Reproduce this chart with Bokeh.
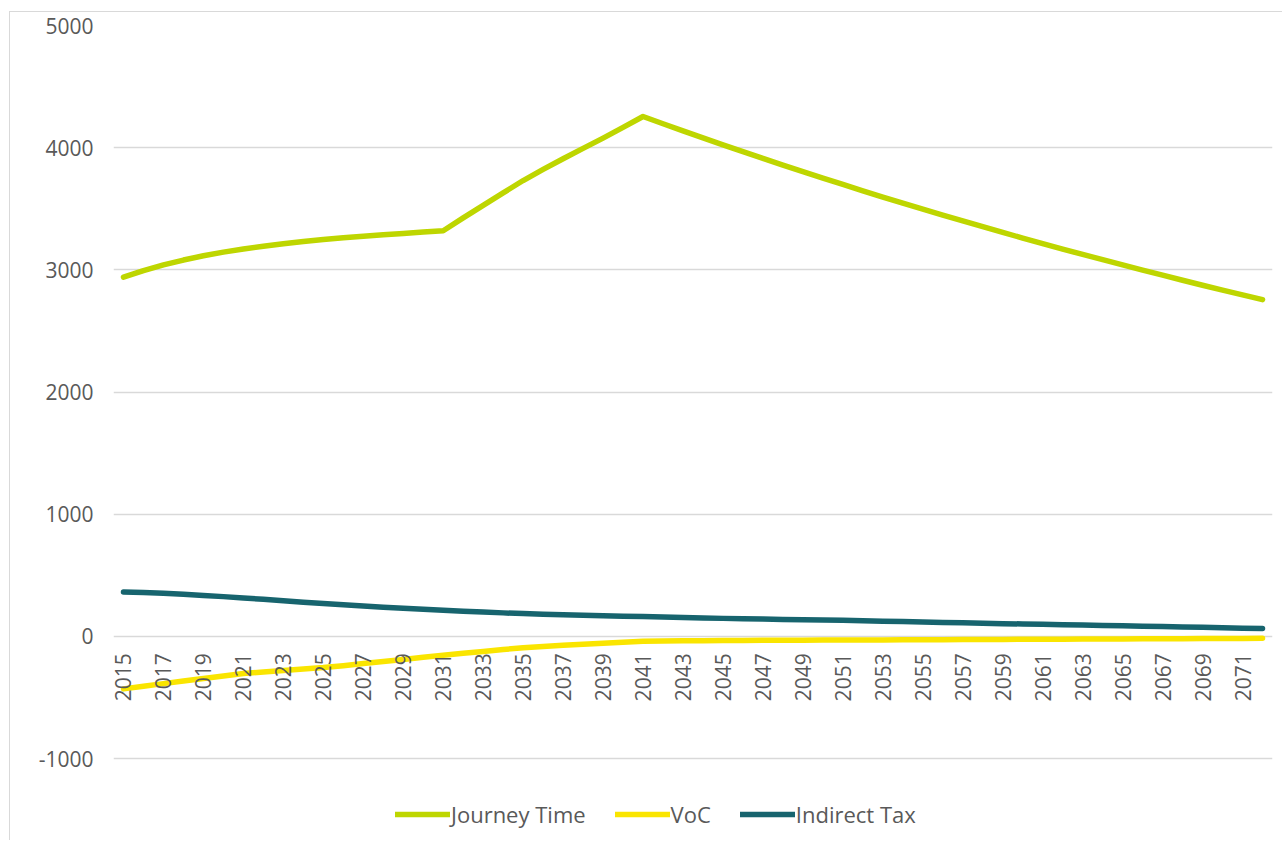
import math
from bokeh.plotting import figure
from bokeh.models import FixedTicker, Legend, LegendItem
from bokeh.embed import file_html
from bokeh.resources import INLINE

years = list(range(2015, 2073))

journey_time = [2940, 2993, 3040, 3080, 3115, 3145, 3170, 3193, 3214, 3232,
                3248, 3262, 3275, 3287, 3298, 3309, 3320,
                3425, 3528, 3630, 3731, 3822, 3909, 3994, 4078, 4166,
                4255, 4196, 4137, 4080, 4023, 3967, 3912, 3857, 3804, 3751,
                3699, 3647, 3596, 3546, 3497, 3448, 3400, 3353, 3306, 3260,
                3215, 3170, 3126, 3083, 3040, 2998, 2956, 2915, 2874, 2834,
                2795, 2756]

voc = [-430, -408, -387, -366, -345, -325, -305, -292, -280, -268,
       -256, -240, -223, -206, -189, -172, -155, -139, -124, -108,
       -93, -83, -73, -64, -56, -48, -40,
       -38, -37, -36, -35, -34, -33, -33, -32, -31, -30, -30, -29, -28,
       -28, -27, -26, -26, -25, -24, -24, -23, -22, -22, -21, -20, -20,
       -19, -18, -18, -17, -16]

indirect_tax = [363, 358, 352, 344, 335, 325, 314, 303, 291, 279,
                268, 258, 248, 238, 229, 221, 213, 206, 199, 192,
                186, 181, 177, 173, 169, 165, 162, 158, 154, 150,
                147, 144, 141, 138, 135, 133, 131, 128, 124, 121,
                118, 114, 111, 108, 104, 101, 98, 95, 92, 89,
                86, 83, 80, 77, 74, 71, 67, 64]

y_ticks = [-1000, 0, 1000, 2000, 3000, 4000, 5000]
x_ticks = list(range(2015, 2072, 2))

series_names = ["Journey Time", "VoC", "Indirect Tax"]
series_colors = ["#BED600", "#FAE500", "#17646E"]

FONT = "Open Sans"
TXT = "#595959"

# frame extends below -1000 to host the legend (gridlines only at ticks)
Y_TOP = 5000
Y_BOTTOM = Y_TOP - 813 * 6000 / 733

p = figure(frame_width=1159, frame_height=813,
           x_range=(2014.5, 2072.5), y_range=(Y_BOTTOM, Y_TOP),
           output_backend="svg", toolbar_location=None,
           min_border_left=103, min_border_top=13, min_border_right=10,
           min_border_bottom=2)
p.styles = {"margin-left": "9px", "margin-top": "11px",
            "border-left": "1px solid #d9d9d9", "border-top": "1px solid #d9d9d9"}
p.outline_line_color = None

renderers = []
for vals, col in zip([journey_time, voc, indirect_tax], series_colors):
    r = p.line(years, vals, line_width=5.5, line_color=col,
               line_cap="round", line_join="round")
    renderers.append(r)

# x axis at zero
p.xaxis.fixed_location = 0
p.xaxis.ticker = FixedTicker(ticks=x_ticks)
p.xaxis.major_label_orientation = math.pi / 2
p.xaxis.axis_line_color = None
p.xaxis.major_tick_line_color = None
p.xaxis.minor_tick_line_color = None
p.xaxis.major_tick_out = 0
p.xaxis.major_label_standoff = 17
p.xaxis.major_label_text_font = FONT
p.xaxis.major_label_text_font_size = "21px"
p.xaxis.major_label_text_color = TXT
p.xgrid.grid_line_color = None

p.yaxis.ticker = FixedTicker(ticks=y_ticks)
p.yaxis.major_label_overrides = {t: str(t) for t in y_ticks}
p.yaxis.axis_line_color = None
p.yaxis.major_tick_line_color = None
p.yaxis.minor_tick_line_color = None
p.yaxis.major_tick_out = 0
p.yaxis.major_label_standoff = 20
p.yaxis.major_label_text_font = FONT
p.yaxis.major_label_text_font_size = "21px"
p.yaxis.major_label_text_color = TXT
p.ygrid.ticker = FixedTicker(ticks=y_ticks)
p.ygrid.grid_line_color = "#d9d9d9"
p.ygrid.grid_line_width = 1.5

items = [LegendItem(label=n, renderers=[r]) for n, r in zip(series_names, renderers)]
legend = Legend(items=items, orientation="horizontal", location=(282, 9),
                glyph_width=55, glyph_height=22, label_standoff=1, spacing=29,
                padding=0, margin=0, border_line_color=None,
                background_fill_alpha=0,
                label_text_font=FONT, label_text_font_size="22px",
                label_text_color=TXT)
p.add_layout(legend, "center")

open("out.html", "w").write(file_html(p, INLINE))
